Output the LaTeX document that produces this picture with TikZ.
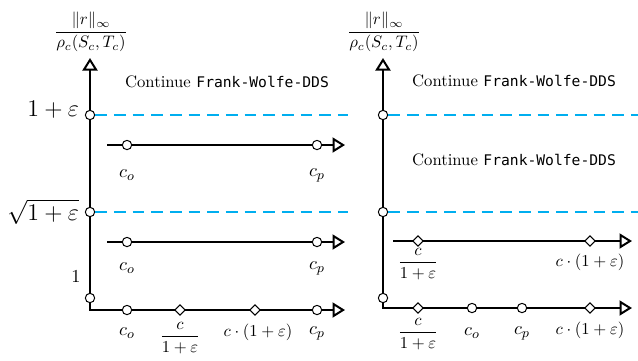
\documentclass[tikz,border=0pt]{standalone}
\usepackage{amsmath}
\usepackage{fontspec}
\setmonofont{DejaVu Sans Mono}[Scale=0.88]
\usetikzlibrary{arrows.meta,shapes.geometric}
\definecolor{gapblue}{RGB}{0,174,239}

\begin{document}
\begin{tikzpicture}[x=0.6pt, y=-0.6pt,
  axis/.style={line width=1.2pt, line join=miter, {Triangle[open, length=7.5pt, width=9pt]}-{Triangle[open, length=7.5pt, width=9pt]}},
  ray/.style={line width=1.2pt, -{Triangle[open, length=7.5pt, width=9pt]}},
  level/.style={gapblue, line width=1.2pt, dash pattern=on 7pt off 4.2pt},
  dot/.style={circle, draw, fill=white, line width=0.6pt, inner sep=0pt, minimum size=5.6pt},
  tick/.style={diamond, draw, fill=white, line width=0.6pt, inner sep=0pt, minimum size=6.4pt},
  big/.style={font=\fontsize{13.5}{16}\selectfont},
  lab/.style={font=\fontsize{11}{13}\selectfont}]
\useasboundingbox (0,0) rectangle (638,360);

% left panel
\coordinate (top1) at (90,58);
\coordinate (org1) at (90,310);
\coordinate (end1) at (345,310);
\coordinate (a0) at (107,145);
\coordinate (a1) at (345,145);
\coordinate (b0) at (107,242);
\coordinate (b1) at (345,242);
\draw[axis] (top1) -- (org1) -- (end1);
\draw[ray] (a0) -- (a1);
\draw[ray] (b0) -- (b1);
\node (ylab1) at (91,32) {$\dfrac{\|r\|_\infty}{\rho_c(S_c,T_c)}$};
\node[dot, label={[big, yshift=3pt]left:$1+\varepsilon$}] (eps1) at (90,115) {};
\node[dot, label={[big]left:$\sqrt{1+\varepsilon}$}] (sq1) at (90,212) {};
\node[dot] (one1) at (90,298) {};
\node[lab] (onelab) at (76,277) {$1$};
\coordinate (eps1r) at (348,115);
\coordinate (sq1r) at (348,212);
\draw[level] (eps1) -- (eps1r);
\draw[level] (sq1) -- (sq1r);
\node (go1) at (227,82) {Continue \texttt{Frank-Wolfe-DDS}};
\node[dot] (ao) at (127,145) {};
\node[dot] (ap) at (317,145) {};
\node[lab] (aol) at (127,175) {$c_o$};
\node[lab] (apl) at (317,175) {$c_p$};
\node[dot] (bo) at (127,242) {};
\node[dot] (bp) at (317,242) {};
\node[lab] (bol) at (127,268) {$c_o$};
\node[lab] (bpl) at (317,268) {$c_p$};
\node[dot] (xo1) at (127,310) {};
\node[tick] (xl1) at (180,310) {};
\node[tick] (xh1) at (255,310) {};
\node[dot] (xp1) at (317,310) {};
\node[lab] (xol1) at (127,333) {$c_o$};
\node (xll1) at (180,338) {$\dfrac{c}{1+\varepsilon}$};
\node (xhl1) at (258,332) {$c\cdot(1+\varepsilon)$};
\node[lab] (xpl1) at (317,333) {$c_p$};

% right panel
\coordinate (top2) at (383,58);
\coordinate (org2) at (383,308);
\coordinate (end2) at (632,308);
\coordinate (c0) at (393,241);
\coordinate (c1) at (632,241);
\draw[axis] (top2) -- (org2) -- (end2);
\draw[ray] (c0) -- (c1);
\node (ylab2) at (384,32) {$\dfrac{\|r\|_\infty}{\rho_c(S_c,T_c)}$};
\node[dot] (eps2) at (383,115) {};
\node[dot] (sq2) at (383,212) {};
\node[dot] (one2) at (383,298) {};
\coordinate (eps2r) at (638,115);
\coordinate (sq2r) at (638,212);
\draw[level] (eps2) -- (eps2r);
\draw[level] (sq2) -- (sq2r);
\node (go2) at (514,81) {Continue \texttt{Frank-Wolfe-DDS}};
\node (go3) at (514,160) {Continue \texttt{Frank-Wolfe-DDS}};
\node[tick] (cl) at (418,241) {};
\node[tick] (ch) at (590,241) {};
\node (cll) at (418,264) {$\dfrac{c}{1+\varepsilon}$};
\node (chl) at (590,262) {$c\cdot(1+\varepsilon)$};
\node[tick] (xl2) at (418,308) {};
\node[dot] (xo2) at (472,308) {};
\node[dot] (xp2) at (522,308) {};
\node[tick] (xh2) at (590,308) {};
\node (xll2) at (418,334) {$\dfrac{c}{1+\varepsilon}$};
\node[lab] (xol2) at (472,333) {$c_o$};
\node[lab] (xpl2) at (522,333) {$c_p$};
\node (xhl2) at (590,330) {$c\cdot(1+\varepsilon)$};
\end{tikzpicture}
\end{document}
